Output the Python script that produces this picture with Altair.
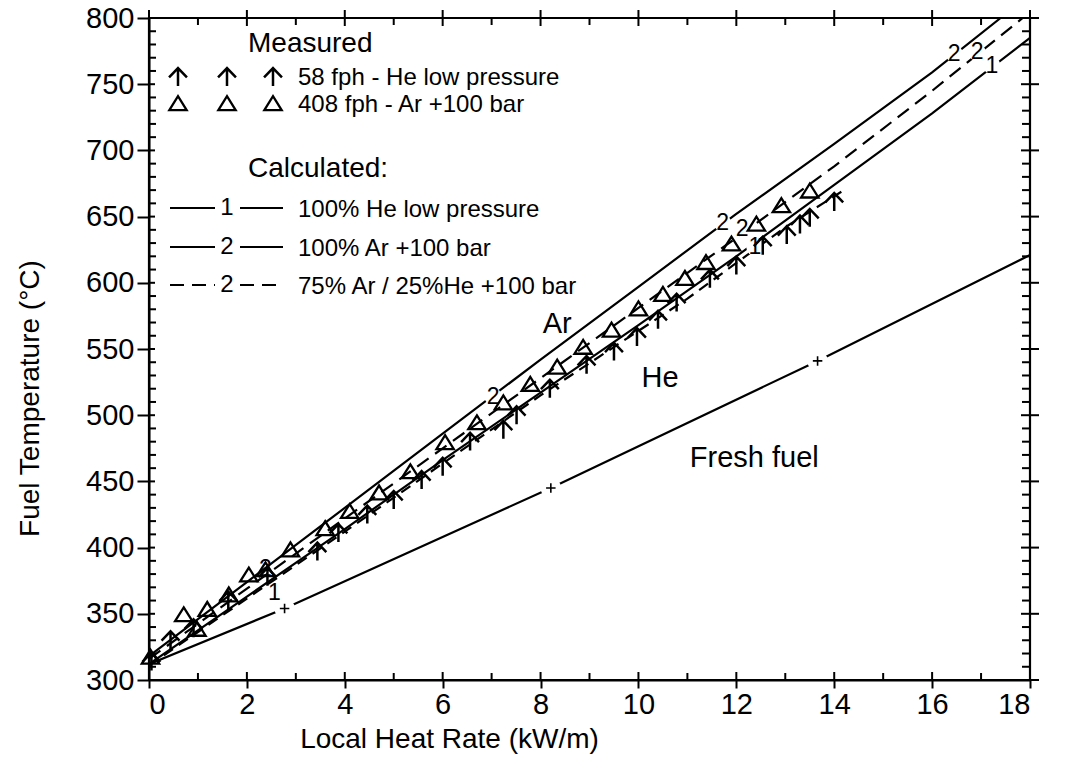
import altair as alt
import pandas as pd

# ---------------- data ----------------
# calculated curves
ar100_x = [0, 2, 4, 6, 8, 10, 12, 14, 16, 17.4]
ar100_t = [318, 374, 430, 486, 542, 597, 652, 705, 759, 800]
mix_x = [0, 2, 4, 6, 8, 10, 12, 14, 16, 17.85]
mix_t = [316, 369, 422, 475, 528, 581, 634, 688, 745, 800]
he_x = [0, 2, 4, 6, 8, 10, 12, 14, 16, 18]
he_t = [312, 363, 414, 466, 517, 568, 620, 674, 728, 785]
fresh_x = [0, 2.77, 8.21, 13.66, 18]
fresh_t = [312, 354, 445, 541, 621]
fresh_mark_x = [2.77, 8.21, 13.66]
fresh_mark_t = [354, 445, 541]
# dashed line through the measured He points
hefit_x = [0, 4, 8, 11, 13, 14.2]
hefit_t = [311, 412, 515, 588, 642, 670]

# measured points
m_he_x = [0.05, 0.44, 0.91, 1.62, 2.42, 3.44, 3.87, 4.46, 5.0, 5.57, 6.0, 6.56, 7.24, 7.51,
          8.19, 8.94, 9.5, 9.97, 10.4, 10.78, 11.46, 12.0, 12.54, 13.03, 13.3, 13.5, 14.0]
m_he_t = [314, 330, 339, 360, 378, 397, 411, 425, 436, 451, 461, 480, 489, 500,
          520, 538, 548, 559, 572, 585, 603, 613, 628, 636, 644, 649, 661]
m_ar_x = [0.03, 0.71, 0.98, 1.19, 1.63, 2.04, 2.38, 2.89, 3.6, 4.1, 4.7, 5.34, 6.05, 6.7,
          7.24, 7.79, 8.34, 8.87, 9.45, 10.0, 10.5, 10.95, 11.38, 11.9, 12.41, 12.92, 13.5]
m_ar_t = [317, 349, 338, 353, 364, 379, 383, 398, 414, 427, 441, 457, 479, 494,
          509, 523, 536, 551, 564, 580, 591, 603, 615, 629, 644, 658, 669]

# curve labels
lab_x = [7.03, 11.72, 16.45, 12.12, 16.92, 12.38, 17.22]
lab_t = [514, 645, 773, 641, 774, 627, 764]
lab_s = ["2", "2", "2", "2", "2", "1", "1"]
lab2_x = [2.38, 2.56]
lab2_t = [384, 366]
lab2_s = ["2", "1"]

# annotations
ann_x = [8.34, 10.44]
ann_t = [569, 528]
ann_s = ["Ar", "He"]
ff_x = [11.05]
ff_t = [468]
ff_s = ["Fresh fuel"]

# ticks
x_major = [0, 2, 4, 6, 8, 10, 12, 14, 16, 18]
x_minor = [1, 3, 5, 7, 9, 11, 13, 15, 17]
y_major = [300, 350, 400, 450, 500, 550, 600, 650, 700, 750, 800]
y_minor = [v for v in range(310, 800, 10) if v % 50 != 0]

# legend texts
meas_title = "Measured"
meas_rows = ["58 fph - He low pressure", "408 fph - Ar +100 bar"]
calc_title = "Calculated:"
calc_rows = ["100% He low pressure", "100% Ar +100 bar", "75% Ar / 25%He +100 bar"]
calc_nums = ["1", "2", "2"]

# ---------------- styling ----------------
FONT = "Liberation Sans"
W, H = 881, 662
xs = alt.Scale(domain=[0, 18], nice=False, zero=False)
ys = alt.Scale(domain=[300, 800], nice=False, zero=False)

xaxis = alt.Axis(values=x_major, format="d", title="Local Heat Rate (kW/m)",
                 labelFont=FONT, labelFontSize=29, labelColor="black", labelPadding=2,
                 tickSize=8, tickWidth=2, tickColor="black",
                 domainColor="black", domainWidth=2, grid=False,
                 titleFont=FONT, titleFontSize=28, titleFontWeight="normal",
                 titleColor="black", titlePadding=6, titleX=300)
yaxis = alt.Axis(values=y_major, format="d", title="Fuel Temperature (°C)",
                 labelFont=FONT, labelFontSize=29, labelColor="black", labelPadding=3,
                 tickSize=12, tickWidth=2, tickColor="black",
                 domainColor="black", domainWidth=2, grid=False,
                 titleFont=FONT, titleFontSize=28, titleFontWeight="normal",
                 titleColor="black", titleX=-119, titleY=380, titleBaseline="middle")

ARROW = "M0,1L0,-1M-1,0.05L0,-1L1,0.05"
TRI = "M-1,0.7L0,-0.9L1,0.7Z"
PLUS = "M-1,0L1,0M0,-1L0,1"


def X(f="x"):
    return alt.X(f"{f}:Q", scale=xs, axis=xaxis)


def Y(f="t"):
    return alt.Y(f"{f}:Q", scale=ys, axis=yaxis)


def df(xv, tv, sv=None):
    d = {"x": xv, "t": tv}
    if sv is not None:
        d["s"] = sv
    return pd.DataFrame(d)


def line(xv, tv, dash=None):
    kw = dict(color="black", strokeWidth=2.2, clip=True)
    if dash:
        kw["strokeDash"] = dash
    return alt.Chart(df(xv, tv)).mark_line(**kw).encode(x=X(), y=Y())


layers = []
layers.append(line(fresh_x, fresh_t))
layers.append(line(he_x, he_t))
layers.append(line(ar100_x, ar100_t))
layers.append(line(mix_x, mix_t, [14, 8]))
layers.append(line(hefit_x, hefit_t, [11, 7]))

# gaps in lines around labels / plus marks
layers.append(alt.Chart(df(lab_x, lab_t)).mark_point(shape="circle", filled=True, color="white",
                                                      opacity=1, size=300).encode(x=X(), y=Y()))
layers.append(alt.Chart(df(fresh_mark_x, fresh_mark_t)).mark_point(shape="circle", filled=True,
                                                                   color="white", opacity=1,
                                                                   size=420).encode(x=X(), y=Y()))
layers.append(alt.Chart(df(fresh_mark_x, fresh_mark_t)).mark_point(shape=PLUS, filled=False,
                                                                   color="black", strokeWidth=1.6,
                                                                   size=90, opacity=1).encode(x=X(), y=Y()))

# measured markers
layers.append(alt.Chart(df(m_ar_x, m_ar_t)).mark_point(shape=TRI, filled=False, color="black",
                                                        strokeWidth=2.3, size=300, opacity=1).encode(x=X(), y=Y()))
layers.append(alt.Chart(df(m_he_x, m_he_t)).mark_point(shape=ARROW, filled=False, color="black",
                                                        strokeWidth=2.5, size=320, opacity=1).encode(x=X(), y=Y()))

# curve labels
for xv, tv, sv in [(lab_x, lab_t, lab_s), (lab2_x, lab2_t, lab2_s)]:
    layers.append(alt.Chart(df(xv, tv, sv)).mark_text(font=FONT, fontSize=23, color="black",
                                                      align="center", baseline="middle").encode(
        x=X(), y=Y(), text="s:N"))

# annotations
layers.append(alt.Chart(df(ann_x, ann_t, ann_s)).mark_text(font=FONT, fontSize=29, color="black",
                                                           align="center", baseline="middle").encode(
    x=X(), y=Y(), text="s:N"))
layers.append(alt.Chart(df(ff_x, ff_t, ff_s)).mark_text(font=FONT, fontSize=29, color="black",
                                                        align="left", baseline="middle").encode(
    x=X(), y=Y(), text="s:N"))


# manual inward / mirrored ticks
def vrules(vals, y1, y2):
    return alt.Chart(pd.DataFrame({"x": vals})).mark_rule(color="black", strokeWidth=2).encode(
        x=X(), y=alt.value(y1), y2=alt.value(y2))


def hrules(vals, x1, x2):
    return alt.Chart(pd.DataFrame({"t": vals})).mark_rule(color="black", strokeWidth=2).encode(
        y=Y(), x=alt.value(x1), x2=alt.value(x2))


layers += [vrules(x_major, H, H - 8), vrules(x_minor, H, H - 7),
           vrules(x_major, -8, 8), vrules(x_minor, 0, 7),
           hrules(y_major, 0, 6), hrules(y_minor, 0, 7),
           hrules(y_major, W - 9, W + 9), hrules(y_minor, W - 8, W)]

# legend (drawn inside the plot)
one = pd.DataFrame({"d": [0]})


def txt(s, x, y, size):
    return alt.Chart(one).mark_text(text=s, font=FONT, fontSize=size, color="black", align="left",
                                    baseline="alphabetic").encode(x=alt.value(x), y=alt.value(y))


layers.append(txt(meas_title, 99, 34, 28))
for i, s in enumerate(meas_rows):
    layers.append(txt(s, 149, 67 + 27 * i, 24))
for px in [29, 78, 124]:
    layers.append(alt.Chart(one).mark_point(shape=ARROW, filled=False, color="black", strokeWidth=2.5,
                                            size=320, opacity=1).encode(x=alt.value(px), y=alt.value(59)))
    layers.append(alt.Chart(one).mark_point(shape=TRI, filled=False, color="black", strokeWidth=2.3,
                                            size=300, opacity=1).encode(x=alt.value(px), y=alt.value(86)))
layers.append(txt(calc_title, 99, 159, 28))
row_y = [190, 229, 267]
for i, (s, n) in enumerate(zip(calc_rows, calc_nums)):
    yy = row_y[i]
    kw = dict(color="black", strokeWidth=2.2)
    if i == 2:
        kw["strokeDash"] = [14, 8]
    layers.append(alt.Chart(one).mark_rule(**kw).encode(x=alt.value(21), x2=alt.value(66), y=alt.value(yy)))
    layers.append(alt.Chart(one).mark_rule(**kw).encode(x=alt.value(91), x2=alt.value(134), y=alt.value(yy)))
    layers.append(alt.Chart(one).mark_text(text=n, font=FONT, fontSize=24, color="black", align="center",
                                           baseline="middle").encode(x=alt.value(78), y=alt.value(yy)))
    layers.append(txt(s, 149, yy + 9, 24))

chart = alt.layer(*layers).properties(
    width=W, height=H,
    autosize=alt.AutoSizeParams(type="none"),
    padding={"left": 149, "top": 18, "right": 42, "bottom": 80},
    background="white",
).configure_view(stroke="black", strokeWidth=2.2)

chart.save("out.html", embed_options={"renderer": "svg", "actions": False})
